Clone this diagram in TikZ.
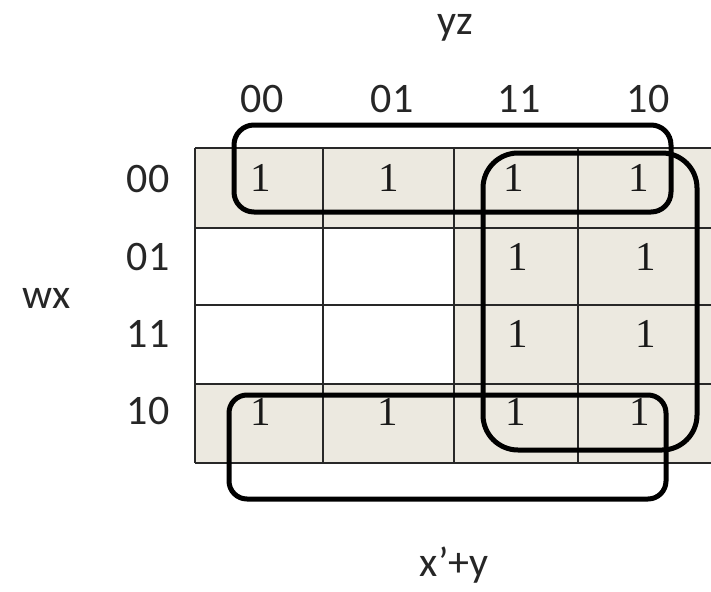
\documentclass[tikz,border=0pt]{standalone}
\usepackage{fontspec}
\setmainfont{Carlito}
\newfontfamily\numfont{Liberation Serif}
\definecolor{cellbg}{RGB}{236,233,224}
\definecolor{gridcol}{RGB}{40,40,40}
\begin{document}
\begin{tikzpicture}[x=1pt,y=-1pt,
  lbl/.style={font=\fontsize{42}{50}\selectfont, inner sep=0pt, text=black!85},
  one/.style={font=\numfont\fontsize{41}{49}\selectfont, inner sep=0pt, text=black!90},
  gridline/.style={line width=1.8pt, draw=gridcol},
  kloop/.style={line width=5pt, draw=black}]
\useasboundingbox (0,0) rectangle (711,591);
% shading
\fill[cellbg] (195,148) rectangle (711,228);
\fill[cellbg] (195,384) rectangle (711,463);
\fill[cellbg] (454,228) rectangle (711,384);
% grid
\foreach \yy in {148,228,305,384,463} \draw[gridline] (195,\yy) -- (711,\yy);
\foreach \xx in {195,323,454,578} \draw[gridline] (\xx,148) -- (\xx,463);
% labels
\node[lbl] (yz) at (455,28) {yz};
\node[lbl] (c00) at (262,99) {00};
\node[lbl] (c01) at (392,99) {01};
\node[lbl] (c11) at (519,99) {11};
\node[lbl] (c10) at (648,99) {10};
\node[lbl] (r00) at (148,179) {00};
\node[lbl] (r01) at (148,257) {01};
\node[lbl] (r11) at (148,334) {11};
\node[lbl] (r10) at (148,411) {10};
\node[lbl] (wx) at (47,298) {wx};
\node[lbl] (res) at (454,565) {x’+y};
% ones
\node[one] (a1) at (261,178) {1};
\node[one] (a2) at (389,178) {1};
\node[one] (a3) at (514,178) {1};
\node[one] (a4) at (639,178) {1};
\node[one] (b3) at (518,257) {1};
\node[one] (b4) at (646,257) {1};
\node[one] (c3) at (518,334) {1};
\node[one] (c4) at (646,334) {1};
\node[one] (d1) at (261,412) {1};
\node[one] (d2) at (388,412) {1};
\node[one] (d3) at (516,412) {1};
\node[one] (d4) at (640,412) {1};
% loops
\draw[kloop, rounded corners=20pt] (234,125) rectangle (671,212);
\draw[kloop, rounded corners=35pt] (483,153) rectangle (697,450);
\draw[kloop, rounded corners=18pt] (229,395) rectangle (666,499);
\end{tikzpicture}
\end{document}
